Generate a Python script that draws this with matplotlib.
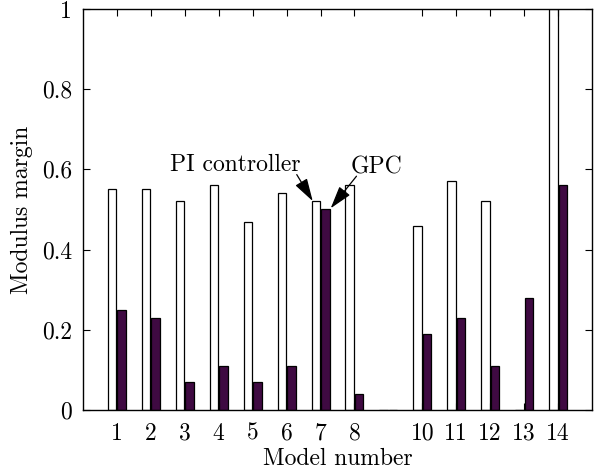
import numpy as np
import matplotlib
matplotlib.use('Agg')
import matplotlib.pyplot as plt

plt.rcParams['font.family'] = 'serif'
plt.rcParams['font.serif'] = ['cmr10', 'DejaVu Serif']
plt.rcParams['mathtext.fontset'] = 'cm'
plt.rcParams['axes.formatter.use_mathtext'] = True

models = np.arange(1, 15)
pi_margin = [0.55, 0.55, 0.52, 0.56, 0.47, 0.54, 0.52, 0.56, 0.0, 0.46, 0.57, 0.52, 0.0, 1.0]
gpc_margin = [0.25, 0.23, 0.07, 0.11, 0.07, 0.11, 0.50, 0.04, 0.0, 0.19, 0.23, 0.11, 0.28, 0.56]
tick_models = [1, 2, 3, 4, 5, 6, 7, 8, 10, 11, 12, 13, 14]
y_ticks = [0, 0.2, 0.4, 0.6, 0.8, 1]
y_labels = ['0', '0.2', '0.4', '0.6', '0.8', '1']

W = 0.25
OFF = 0.14
FS = 17

fig = plt.figure(figsize=(5.94, 4.70), dpi=100)
ax = fig.add_axes([0.1397, 0.1277, 0.8569, 0.8532])

ax.bar(models - OFF, pi_margin, W, facecolor='white', edgecolor='black', linewidth=0.9)
ax.bar(models + OFF, gpc_margin, W, facecolor='#3f0a42', edgecolor='black', linewidth=0.9)

ax.set_xlim(0, 15)
ax.set_ylim(0, 1)
ax.set_xticks(tick_models)
ax.set_xticklabels([str(m) for m in tick_models])
ax.set_yticks(y_ticks)
ax.set_yticklabels(y_labels)
ax.tick_params(direction='in', top=True, right=True, length=5, labelsize=FS)
ax.tick_params(axis='x', pad=9)
ax.tick_params(axis='y', pad=8)
for s in ax.spines.values():
    s.set_linewidth(1.0)

ax.set_xlabel('Model number', fontsize=FS, labelpad=2)
ax.set_ylabel('Modulus margin', fontsize=FS, labelpad=6)

# annotations: text and arrows drawn separately
arrow = dict(arrowstyle='-|>,head_length=1.4,head_width=0.42', color='black',
             lw=0.9, mutation_scale=10, shrinkA=0, shrinkB=0)
ax.text(6.42, 0.611, 'PI controller', ha='right', va='center', fontsize=FS)
ax.annotate('', xy=(6.77, 0.521), xytext=(6.3, 0.587), arrowprops=arrow)
ax.text(7.9, 0.606, 'GPC', ha='left', va='center', fontsize=FS)
ax.annotate('', xy=(7.3, 0.503), xytext=(8.06, 0.583), arrowprops=arrow)

fig.savefig('out.png', dpi=100)
